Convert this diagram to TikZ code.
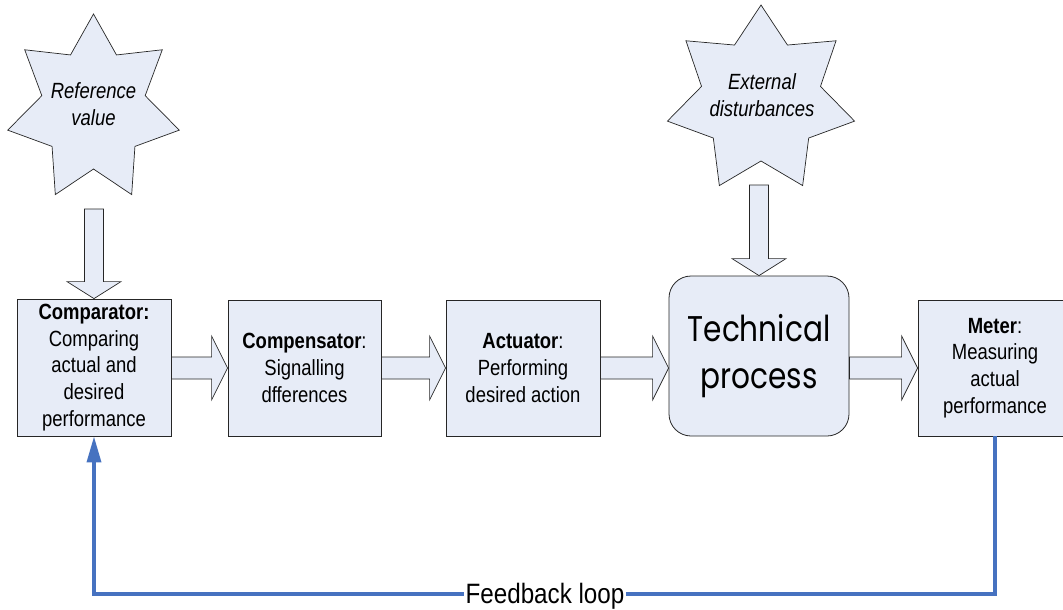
\documentclass[tikz,border=0pt]{standalone}
\usepackage{fontspec}
\setmainfont{Liberation Sans}
\newfontfamily\handfont{Poppins}
\usepackage{graphicx}
\usetikzlibrary{arrows.meta,calc}
\definecolor{boxfill}{RGB}{231,236,247}
\definecolor{fbblue}{RGB}{70,114,192}
\newcommand\sq[1]{\scalebox{0.84}[1]{#1}}
\newcommand\hq[1]{\scalebox{0.87}[1.05]{#1}}
\newcommand\harrow[2]{%
  \draw[blockarrow] ($(#1.east |- row)+(0,-11)$) -- ($(#2.west |- row)+(-16,-11)$)
    -- ($(#2.west |- row)+(-16,-32)$) -- (#2.west |- row)
    -- ($(#2.west |- row)+(-16,32)$) -- ($(#2.west |- row)+(-16,11)$)
    -- ($(#1.east |- row)+(0,11)$) -- cycle;}
\newcommand\varrow[2]{%
  \draw[blockarrow] ($(#2.north |- #1)+(-9.5,0)$) -- ($(#2.north)+(-9.5,-17)$)
    -- ($(#2.north)+(-27,-17)$) -- (#2.north)
    -- ($(#2.north)+(27,-17)$) -- ($(#2.north)+(9.5,-17)$)
    -- ($(#2.north |- #1)+(9.5,0)$) -- cycle;}
\begin{document}
\begin{tikzpicture}[x=1pt,y=-1pt,
  box/.style={draw=black!85, line width=0.8pt, fill=boxfill, minimum width=154pt,
    minimum height=136pt, inner sep=0pt, align=center,
    font=\fontsize{22}{26.7}\selectfont},
  blockarrow/.style={draw=black!85, line width=0.7pt, fill=boxfill, line join=miter},
  starshape/.style={draw=black!85, line width=0.7pt, fill=boxfill},
  startext/.style={align=center, inner sep=0pt, font=\itshape\fontsize{22}{26.5}\selectfont},
  fb/.style={draw=fbblue, line width=3.5pt}]
\useasboundingbox (0,0) rectangle (1063,610);
\clip (0,0) rectangle (1063,610);
\coordinate (row) at (0,368);
\coordinate (fby) at (0,594);
\coordinate (reftail) at (93.5,209);
\coordinate (disttail) at (759,185);

% stars
\draw[starshape] (93.5,14) \foreach \i in {1,...,13}{
  -- ({93.5+(88-35*mod(\i,2))*cos(90+\i*360/14)},{109-(95-35*mod(\i,2))*sin(90+\i*360/14)}) } -- cycle;
\node[startext] (reftxt) at (93.5,104) {\sq{Reference}\\\sq{value}};
\draw[starshape] (761,5) \foreach \i in {1,...,13}{
  -- ({761+(96-35*mod(\i,2))*cos(90+\i*360/14)},{100-(95-34*mod(\i,2))*sin(90+\i*360/14)}) } -- cycle;
\node[startext] (disttxt) at (762,95) {\sq{External}\\\sq{disturbances}};

% boxes
\node[box, minimum height=137pt] (comp) at (94,367.5)
  {\sq{\textbf{Comparator:}}\\\sq{Comparing}\\\sq{actual and}\\\sq{desired}\\\sq{performance}};
\node[box, minimum width=153pt] (cmps) at (304.5,368)
  {\sq{\textbf{Compensator}:}\\\sq{Signalling}\\\sq{dfferences}};
\node[box] (act) at (523,368)
  {\sq{\textbf{Actuator}:}\\\sq{Performing}\\\sq{desired action}};
\node[box, rounded corners=22pt, minimum width=180pt, minimum height=160pt,
  font=\handfont\fontsize{34}{47}\selectfont] (tech) at (759,356) {\hq{Technical}\\\hq{process}};
\node[box] (meter) at (995,368)
  {\sq{\textbf{Meter}:}\\\sq{Measuring}\\\sq{actual}\\\sq{performance}};

% block arrows
\varrow{reftail}{comp}
\varrow{disttail}{tech}
\harrow{comp}{cmps}
\harrow{cmps}{act}
\harrow{act}{tech}
\harrow{tech}{meter}

% feedback loop
\draw[fb, -{Triangle[width=14pt,length=26pt]}] (meter.south) -- (meter.south |- fby)
  -- (comp.south |- fby) -- (comp.south);
\node[fill=white, inner xsep=2pt, inner ysep=0pt, anchor=base,
  font=\fontsize{28}{30}\selectfont] (fbl) at (545,603) {\scalebox{0.865}[1]{Feedback loop}};
\end{tikzpicture}
\end{document}
